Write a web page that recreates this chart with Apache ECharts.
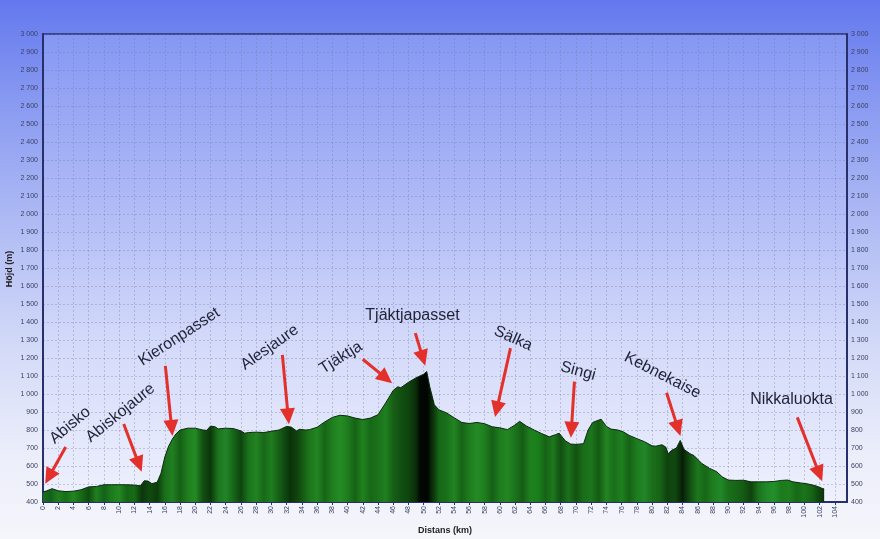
<!DOCTYPE html>
<html>
<head>
<meta charset="utf-8">
<script src="https://cdn.jsdelivr.net/npm/echarts@6/dist/echarts.min.js"></script>
<style>
html,body{margin:0;padding:0;width:880px;height:539px;overflow:hidden;
background:linear-gradient(to bottom,#6378ee 0%,#8798f1 18%,#adb9f4 40%,#d4dbf8 65%,#eceefa 85%,#f5f6fb 100%);}
#c{width:880px;height:539px;}
</style>
</head>
<body>
<div id="c"></div>
<script>
// Distance along the trail (km)
const distKm = [0,0.5,1.2,2,3,4,5,6,7,8,9,10,11,12,12.8,13.3,13.8,14.3,15,15.5,16,16.5,17,17.5,18,19,20,21,21.5,22,22.6,23,24,25,26,26.5,27,28,29,30,31,32,32.6,33.3,33.7,34.5,35,36,37,38,39,40,41,42,43,44,45,46,46.6,47,48,49,50,50.4,50.8,51.4,52,53,54,55,56,57,58,59,60,61,62,62.6,63.5,64.5,65.5,66.5,67.3,67.8,68.6,69.3,70,71,71.6,72.2,73,73.3,74,74.6,75.5,76.2,77,78,79,80,80.5,81.3,81.8,82.1,82.6,83.2,83.7,83.9,84.2,85,85.5,86.5,87.5,88.5,89.2,90,91,92,93,94,95,96,97,97.8,98.5,99.5,100.5,101.5,102.2,102.6];
// Elevation (m)
const elevM = [455,462,474,462,458,460,468,484,486,496,496,496,496,494,490,518,516,502,510,560,650,710,750,780,800,810,810,800,798,822,818,806,810,808,795,782,786,788,786,793,800,820,816,795,804,800,802,815,845,870,882,878,866,858,866,885,950,1020,1040,1035,1065,1090,1110,1125,1040,940,912,895,868,842,836,842,835,818,812,802,828,848,822,800,780,762,774,782,740,722,720,724,800,842,855,860,820,805,800,790,770,752,735,712,710,718,705,668,688,700,742,748,692,668,658,615,588,568,540,522,520,521,512,512,512,514,520,522,512,506,500,490,478,472];

// Places: label anchor (km, m) and arrow start/end (km, m)
const placeNames = ["Abisko","Abiskojaure","Kieronpasset","Alesjaure","Tjäktja","Tjäktjapasset","Sälka","Singi","Kebnekaise","Nikkaluokta"];
const labelKm   = [3.64,10.24,17.95,29.84,39.19,48.59,61.81,70.35,81.42,98.38];
const labelM    = [823,892,1315,1256,1199,1431,1306,1124,1101,967];
const arrowFromKm = [2.98,10.6,16.07,31.44,42.0,48.9,61.4,69.8,81.9,99.07];
const arrowFromM  = [706,833,1156,1217,1193,1338,1255,1069,1007,870];
const arrowToKm   = [0.80,12.6,16.9,32.2,45.04,49.9,59.6,69.4,83.4,101.96];
const arrowToM    = [540,609,811,876,1088,1199,915,801,809,557];

// style only
const labelRotate = [40,39,33,35,32,0,-24,-15,-27,0];
const stripeStops = [[0,'#1a6e1a'],[1,'#14601a'],[2,'#1f7f1f'],[3,'#177017'],[4,'#218521'],[5,'#176a17'],[6,'#0f4d0f'],[7,'#1f801f'],[8,'#13611a'],[9,'#1d7a1d'],[10,'#238823'],[11,'#166516'],[12,'#176b17'],[13,'#0b360b'],[14,'#114a11'],[15,'#0c3a0c'],[16,'#1a6f1a'],[17,'#217f21'],[18,'#155f15'],[19,'#1e7e1e'],[20,'#238a23'],[21,'#134f13'],[22,'#0b370b'],[23,'#1c741c'],[24,'#22842a'],[25,'#176717'],[26,'#0f430f'],[27,'#1b731b'],[28,'#218321'],[29,'#186818'],[30,'#1f7d1f'],[31,'#165f16'],[32.5,'#0a320a'],[33.5,'#10460f'],[35,'#1c761c'],[36,'#228522'],[37,'#176517'],[38,'#1f7e1f'],[39,'#248c24'],[40,'#1e7c1e'],[41,'#166216'],[42,'#208220'],[43,'#176817'],[44,'#1b721b'],[45,'#1f7f1f'],[46,'#165f16'],[47,'#124f12'],[48,'#0f440f'],[49,'#0a2c0a'],[49.5,'#030803'],[50.5,'#020502'],[51.5,'#0f430f'],[52,'#176617'],[53,'#1a701a'],[54,'#218421'],[55,'#166416'],[56,'#1e7c1e'],[57,'#248b24'],[58,'#1e7e1e'],[59,'#165f16'],[60,'#1e7c1e'],[61,'#228622'],[62,'#1b731b'],[63,'#155d15'],[64,'#1f7f1f'],[65,'#198019'],[66,'#166316'],[67,'#1d781d'],[68,'#124f12'],[69,'#1b711b'],[70,'#125212'],[71,'#1a6d1a'],[72,'#1c761c'],[73,'#145a14'],[74,'#228422'],[75,'#1a6f1a'],[76,'#1f801f'],[77,'#166216'],[78,'#1e7d1e'],[79,'#22852a'],[80,'#1a6f1a'],[81,'#176417'],[82,'#0f430f'],[83,'#114811'],[84,'#071f07'],[85,'#134f13'],[86,'#1d771d'],[87,'#176717'],[88,'#1e7e1e'],[89,'#22872a'],[90,'#1a6f1a'],[91,'#176617'],[92,'#145a14'],[93,'#0f420f'],[94,'#1b731b'],[95,'#20882a'],[96,'#22902a'],[97,'#1c7a1c'],[98,'#1e7e1e'],[99,'#176917'],[100,'#1b741b'],[101,'#166316'],[102.6,'#0a300a']];

const lastKm = distKm[distKm.length-1];
const profile = distKm.map((d,i)=>[d, elevM[i]]);

function fmtThousands(v){
  if (v >= 1000){ const r = v % 1000; return Math.floor(v/1000) + ' ' + String(r).padStart(3,'0'); }
  return String(v);
}

const arrows = placeNames.map((n,i)=>[
  {coord:[arrowFromKm[i], arrowFromM[i]]},
  {coord:[arrowToKm[i], arrowToM[i]]}
]);
const labels = placeNames.map((n,i)=>({
  name:n, value:[labelKm[i], labelM[i]],
  label:{rotate: labelRotate[i]}
}));

const chart = echarts.init(document.getElementById('c'), null, {renderer:'canvas'});
const axisColor = '#27306b';
const gridLine = {show:true, lineStyle:{color:'rgba(110,120,165,0.35)', type:[2,2], width:1}};
chart.setOption({
  backgroundColor:'transparent',
  animation:false,
  graphic:[{type:'text', x:10, y:269, rotation:Math.PI/2, silent:true,
    style:{text:'Höjd (m)', fontFamily:'Liberation Sans, Arial', fontWeight:'bold', fontSize:9, fill:'#222',
      align:'center', verticalAlign:'middle'}}],
  grid:{left:43, right:33, top:34, bottom:37, show:true, containLabel:false, outerBoundsMode:'none',
    borderColor:axisColor, borderWidth:1.5,
    backgroundColor:{type:'linear',x:0,y:0,x2:0,y2:1,colorStops:[
      {offset:0,color:'#8597f3'},{offset:0.35,color:'#aeb9f6'},{offset:0.65,color:'#d3d9f9'},{offset:1,color:'#eff1fd'}]}
  },
  xAxis:{type:'value', min:0, max:105.6, interval:2,
    name:'Distans (km)', nameLocation:'middle', nameGap:24,
    nameTextStyle:{fontFamily:'Liberation Sans, Arial', fontWeight:'bold', fontSize:9, color:'#222'},
    axisLine:{show:true, onZero:false, lineStyle:{color:axisColor, width:2}},
    axisTick:{show:true, length:3, lineStyle:{color:axisColor}},
    axisLabel:{rotate:90, fontSize:7, color:'#3b4163', margin:4, showMaxLabel:false,
      fontFamily:'Liberation Sans, Arial',
      formatter:v=> (Math.abs(v - Math.round(v))<1e-6 && Math.round(v)%2===0) ? String(Math.round(v)) : ''},
    splitLine:gridLine
  },
  yAxis:[
    {type:'value', min:400, max:3000, interval:100, position:'left',
     axisLine:{show:true, lineStyle:{color:axisColor, width:2}},
     axisTick:{show:false},
     axisLabel:{fontSize:7, color:'#3b4163', margin:5, formatter:fmtThousands, fontFamily:'Liberation Sans, Arial'},
     splitLine:gridLine},
    {type:'value', min:400, max:3000, interval:100, position:'right',
     axisLine:{show:true, lineStyle:{color:axisColor, width:2}},
     axisTick:{show:false},
     axisLabel:{fontSize:7, color:'#3b4163', margin:4, formatter:fmtThousands, fontFamily:'Liberation Sans, Arial'},
     splitLine:{show:false}}
  ],
  series:[
    {type:'line', data:profile, yAxisIndex:0, symbol:'none', smooth:false,
     lineStyle:{color:'#0a2a0a', width:1},
     areaStyle:{origin:'start', opacity:1,
       color:{type:'linear',x:0,y:0,x2:1,y2:0,colorStops:stripeStops.map(s=>({offset:s[0]/lastKm,color:s[1]}))}},
     markLine:{silent:true, symbol:['none','triangle'], symbolSize:[15,16], precision:4,
       lineStyle:{color:'#e3302b', width:3, type:'solid'},
       label:{show:false}, emphasis:{disabled:true},
       data:arrows}
    },
    {type:'scatter', data:labels, symbolSize:1, itemStyle:{color:'rgba(0,0,0,0)'}, silent:true,
     label:{show:true, position:[0,0], formatter:p=>p.name, fontSize:16, opacity:1,
       textBorderWidth:0, textShadowBlur:0,
       fontFamily:'Liberation Sans, Arial', color:'#1f2236', align:'center', verticalAlign:'middle'}
    }
  ]
});
</script>
</body>
</html>
